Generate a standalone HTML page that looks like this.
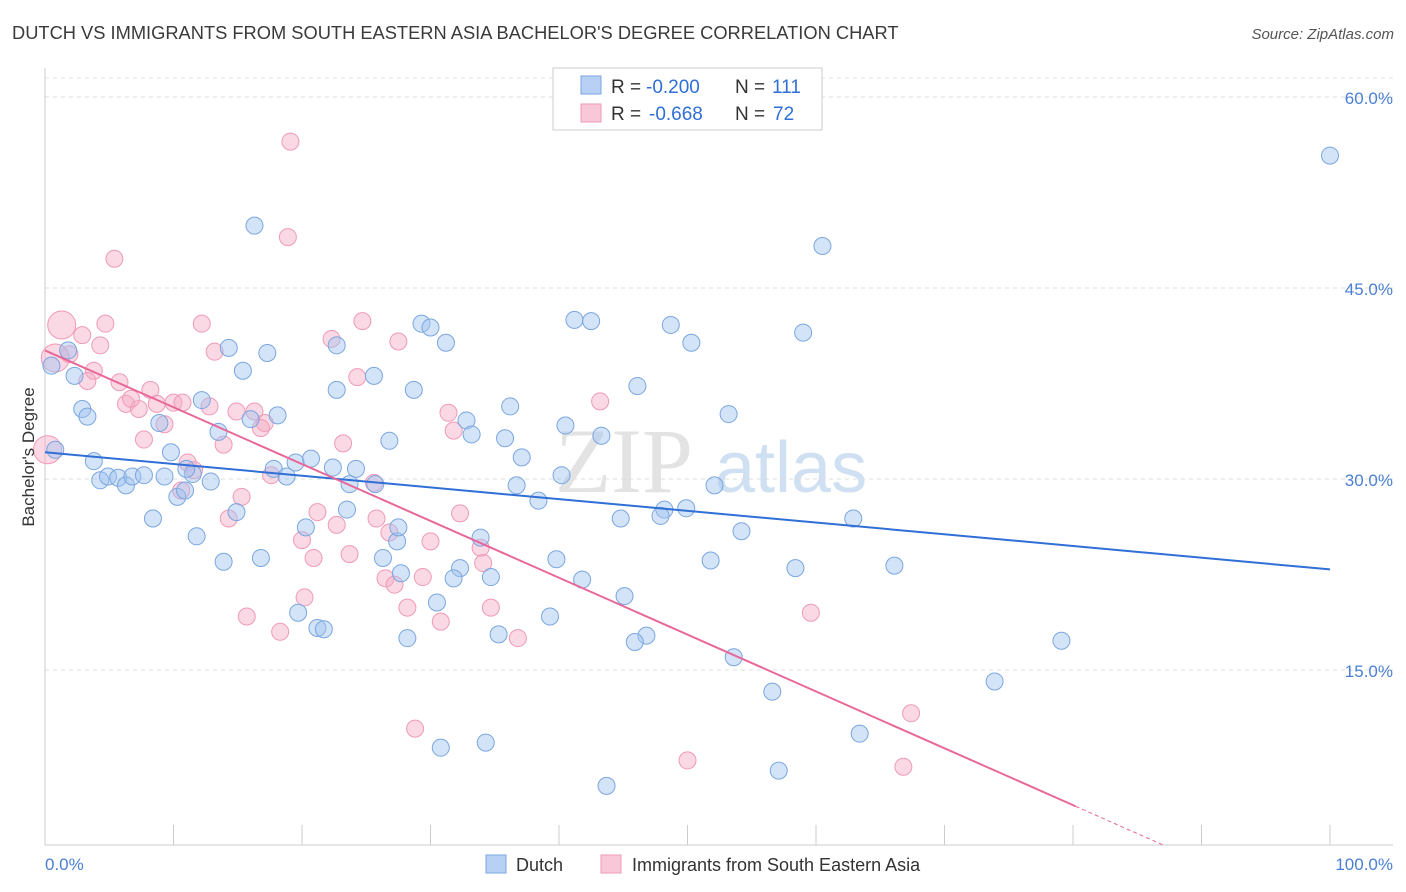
<!DOCTYPE html>
<html><head><meta charset="utf-8"><style>
body{margin:0;background:#fff;width:1406px;height:892px;overflow:hidden;font-family:"Liberation Sans",sans-serif}
svg{display:block}
</style></head><body>
<svg id="chart" width="1406" height="892" xmlns="http://www.w3.org/2000/svg">
<text x="12" y="39" font-size="18.3" fill="#3a3a3a">DUTCH VS IMMIGRANTS FROM SOUTH EASTERN ASIA BACHELOR'S DEGREE CORRELATION CHART</text>
<text x="1394" y="39" font-size="15" fill="#555" text-anchor="end" font-style="italic">Source: ZipAtlas.com</text>
<g><text x="555" y="492" font-size="92" fill="#e3e3e3" font-family="Liberation Serif,serif">ZIP</text><text x="715" y="492" font-size="72" fill="#cfe0f2">atlas</text></g>
<g id="grid"></g>
<g id="pts"></g>
<g id="trends"></g>
<text transform="translate(34,457) rotate(-90)" font-size="17" fill="#333" text-anchor="middle">Bachelor's Degree</text>
<text x="45" y="870" font-size="17" fill="#4a7fd4">0.0%</text>
<text x="1393" y="870" font-size="17" fill="#4a7fd4" text-anchor="end">100.0%</text>
<g>
<rect x="553" y="68" width="269" height="62" fill="#fff" stroke="#ccc"/>
<rect x="581" y="76" width="20" height="18" fill="#b7d0f3" stroke="#7aa6e0"/>
<rect x="581" y="104" width="20" height="18" fill="#f9c8d8" stroke="#ee9ab6"/>
<text x="611" y="93" font-size="19" fill="#333">R =</text>
<text x="646" y="93" font-size="19" fill="#2f6fd6">-0.200</text>
<text x="735" y="93" font-size="19" fill="#333">N =</text>
<text x="772" y="93" font-size="19" fill="#2f6fd6">111</text>
<text x="611" y="120" font-size="19" fill="#333">R =</text>
<text x="649" y="120" font-size="19" fill="#2f6fd6">-0.668</text>
<text x="735" y="120" font-size="19" fill="#333">N =</text>
<text x="773" y="120" font-size="19" fill="#2f6fd6">72</text>
</g>
<g>
<rect x="486" y="855" width="20" height="18" fill="#b7d0f3" stroke="#7aa6e0"/>
<text x="516" y="871" font-size="18" fill="#333">Dutch</text>
<rect x="601" y="855" width="20" height="18" fill="#f9c8d8" stroke="#ee9ab6"/>
<text x="632" y="871" font-size="18" fill="#333">Immigrants from South Eastern Asia</text>
</g>
</svg>
<script>
const yTicks=[15,30,45,60];
const yTickLabels=["15.0%","30.0%","45.0%","60.0%"];
const dutchX=[100,60.5,16.3,41.2,42.5,48.7,59.0,50.3,29.3,30.0,31.2,14.3,17.3,22.7,15.4,25.6,28.7,46.1,53.2,36.2,22.7,32.8,33.2,40.5,43.3,35.8,26.8,37.1,40.2,2.9,3.3,1.8,2.3,0.5,8.9,12.2,13.5,18.1,16.0,9.8,3.8,4.3,4.9,5.7,6.3,6.8,7.7,9.3,11.5,12.9,11.0,10.3,10.9,17.8,18.8,19.5,20.7,22.4,24.2,23.7,25.7,36.7,38.4,52.1,62.9,49.9,48.2,47.9,44.8,54.2,8.4,11.8,14.9,20.3,23.5,27.4,27.5,33.9,13.9,16.8,26.3,32.3,31.8,34.7,27.7,39.8,41.8,45.1,51.8,58.4,66.1,30.5,19.7,21.2,21.7,28.2,35.3,39.3,46.8,45.9,53.6,79.1,73.9,56.6,63.4,30.8,34.3,57.1,43.7,0.8];
const dutchY=[55.4,48.3,49.9,42.5,42.4,42.1,41.5,40.7,42.2,41.9,40.7,40.3,39.9,40.5,38.5,38.1,37.0,37.3,35.1,35.7,37.0,34.6,33.5,34.2,33.4,33.2,33.0,31.7,30.3,35.5,34.9,40.1,38.1,38.9,34.4,36.2,33.7,35.0,34.7,32.1,31.4,29.9,30.2,30.1,29.5,30.2,30.3,30.2,30.4,29.8,30.8,28.6,29.1,30.8,30.2,31.3,31.6,30.9,30.8,29.6,29.6,29.5,28.3,29.5,26.9,27.7,27.6,27.1,26.9,25.9,26.9,25.5,27.4,26.2,27.6,25.1,26.2,25.4,23.5,23.8,23.8,23.0,22.2,22.3,22.6,23.7,22.1,20.8,23.6,23.0,23.2,20.3,19.5,18.3,18.2,17.5,17.8,19.2,17.7,17.2,16.0,17.3,14.1,13.3,10.0,8.9,9.3,7.1,5.9,32.3];
const seaX=[19.1,18.9,5.4,1.3,4.7,12.2,2.9,4.3,1.9,0.8,13.2,22.3,24.7,27.5,3.8,3.3,5.8,8.2,24.3,6.3,7.3,6.7,8.7,10.0,10.7,12.8,14.9,16.3,17.1,16.8,9.3,7.7,13.9,43.2,31.4,31.8,23.2,11.1,11.6,17.6,25.6,10.6,15.3,14.3,21.2,22.7,25.8,32.3,26.8,20.0,30.0,33.9,20.9,23.7,34.1,26.5,27.2,29.4,28.2,20.2,34.7,30.8,15.7,18.3,36.8,59.6,28.8,50.0,67.4,66.8,0.2];
const seaY=[56.5,49.0,47.3,42.1,42.2,42.2,41.3,40.5,39.8,39.5,40.0,41.0,42.4,40.8,38.5,37.7,37.6,37.0,38.0,35.9,35.5,36.3,35.9,36.0,36.0,35.7,35.3,35.3,34.4,34.0,34.3,33.1,32.7,36.1,35.2,33.8,32.8,31.3,30.7,30.3,29.7,29.1,28.6,26.9,27.4,26.4,26.9,27.3,25.8,25.2,25.1,24.6,23.8,24.1,23.4,22.2,21.7,22.3,19.9,20.7,19.9,18.8,19.2,18.0,17.5,19.5,10.4,7.9,11.6,7.4,32.3];
const dutchBig=[110];
const seaBig=[3,9,70];
const dutchTrend=[32.1,22.9];
const seaTrend=[40.1,4.3,80.2];
const xs=v=>45+v*12.85, ys=v=>861-v*12.733;
const NS="http://www.w3.org/2000/svg";
function mk(t,a,p){const e=document.createElementNS(NS,t);for(const k in a)e.setAttribute(k,a[k]);p.appendChild(e);return e;}
const grid=document.getElementById('grid');
yTicks.forEach((t,i)=>{
 const l=mk('line',{x1:45,x2:1393,y1:ys(t),y2:ys(t),stroke:'#dcdcdc','stroke-dasharray':'4,4'},grid);
 
 
 const tx=mk('text',{x:1393,y:ys(t)+7,'font-size':17,fill:'#4a7fd4','text-anchor':'end'},grid);
 tx.textContent=yTickLabels[i];
 
 
});
const topLine=mk('line',{x1:45,x2:1393,y1:78,y2:78,stroke:'#e6e6e6','stroke-dasharray':'4,4'},grid);


const ya=mk('line',{x1:45,x2:45,y1:68,y2:845,stroke:'#ccc'},grid);


const xa=mk('line',{x1:45,x2:1393,y1:845,y2:845,stroke:'#ccc'},grid);


for(let i=1;i<=10;i++){const t=mk('line',{x1:xs(i*10),x2:xs(i*10),y1:825,y2:845,stroke:'#ccc'},grid);
 
 }
const pts=document.getElementById('pts');
seaX.forEach((x,i)=>{const big=seaBig.includes(i);
 const c=mk('circle',{cx:xs(x),cy:ys(seaY[i]),r:big?14:8.5,fill:'rgba(245,170,196,0.45)',stroke:'#ef9ab8','stroke-width':1},pts);
 
 });
dutchX.forEach((x,i)=>{const big=dutchBig.includes(i);
 const c=mk('circle',{cx:xs(x),cy:ys(dutchY[i]),r:big?15:8.5,fill:'rgba(160,195,240,0.45)',stroke:'#7aa6e0','stroke-width':1},pts);
 
 });
const tr=document.getElementById('trends');
const b=mk('line',{x1:xs(0),y1:ys(dutchTrend[0]),x2:xs(100),y2:ys(dutchTrend[1]),stroke:'#2f6fd6','stroke-width':2},tr);


const slope=(seaTrend[1]-seaTrend[0])/seaTrend[2];
const p=mk('line',{x1:xs(0),y1:ys(seaTrend[0]),x2:xs(seaTrend[2]),y2:ys(seaTrend[1]),stroke:'#e8689a','stroke-width':2},tr);


const xe=87;
const pd=mk('line',{x1:xs(seaTrend[2]),y1:ys(seaTrend[1]),x2:xs(xe),y2:ys(seaTrend[0]+slope*xe),stroke:'#e8689a','stroke-width':1,'stroke-dasharray':'4,3'},tr);


</script>
</body></html>
